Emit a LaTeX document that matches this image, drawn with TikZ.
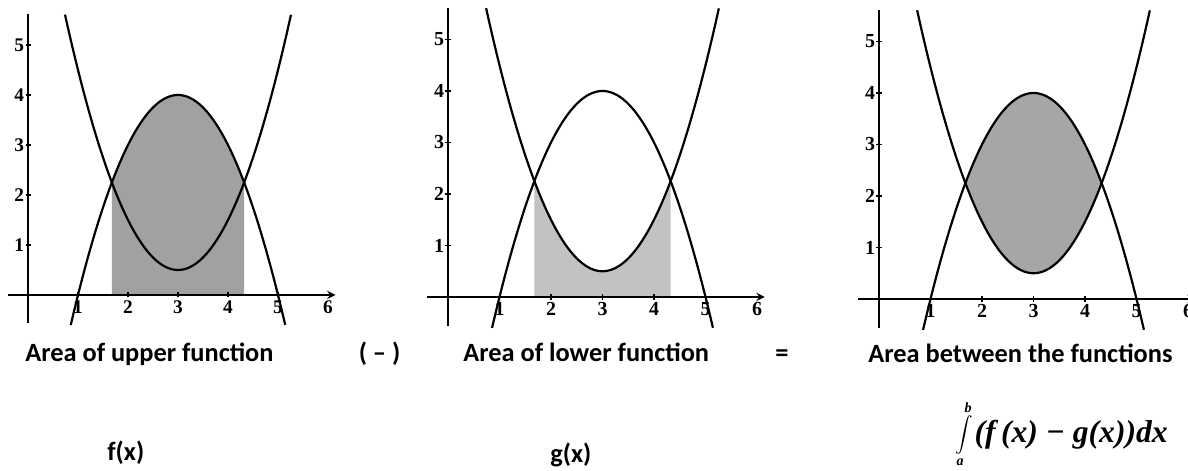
\documentclass[tikz,border=0pt]{standalone}
\usepackage{fontspec}
\setmainfont{Carlito}
\newfontfamily\numfont{Liberation Serif}
\usetikzlibrary{arrows, positioning}

% one set of axes with both parabolas
\tikzset{
    graphframe/.pic={
        \draw[axis] (-0.4,0) -- (6.15,0);
        \draw[yaxis] (0,-0.56) -- (0,5.62);
        \foreach \k in {1,...,5} {
            \draw[tick] (\k,-0.05) -- (\k,0.05);
            \draw[tick] (-0.05,\k) -- (0.05,\k);
            \node[ticklab, anchor=east] (ylab\k) at (-0.07,\k) {\k};
        }
        \foreach \k in {1,...,6}
            \node[ticklab, anchor=north] (xlab\k) at (\k,-0.1) {\k};
        \draw[curve] plot[domain=0.855:5.145] (\x,{4-(\x-3)^2});
        \draw[curve] plot[domain=0.74:5.26] (\x,{(\x-3)^2+0.5});
    }
}

\begin{document}
\begin{tikzpicture}[
    axis/.style={line width=1.1pt,->,>=stealth},
    yaxis/.style={line width=1.1pt},
    tick/.style={line width=0.8pt},
    curve/.style={line width=1.25pt, smooth, samples=80},
    ticklab/.style={font=\numfont\bfseries\fontsize{11}{13}\selectfont, inner sep=0pt},
    caption/.style={font=\bfseries\fontsize{15}{18}\selectfont, inner sep=0pt},
    upperfill/.style={fill=black!37},
    lowerfill/.style={fill=black!24},
    betweenfill/.style={fill=black!35}
]
    \useasboundingbox (0,0) rectangle (23.76,9.42);

    % upper function
    \begin{scope}[shift={(0.56,3.52)}]
        \fill[upperfill] (1.6771,0) -- plot[smooth, samples=60, domain=1.6771:4.3229] (\x,{4-(\x-3)^2}) -- (4.3229,0) -- cycle;
        \pic[transform shape] (pa) {graphframe};
    \end{scope}

    % lower function
    \begin{scope}[shift={(8.96,3.48)}, scale=1.03]
        \fill[lowerfill] (1.6771,0) -- plot[smooth, samples=60, domain=1.6771:4.3229] (\x,{(\x-3)^2+0.5}) -- (4.3229,0) -- cycle;
        \pic[transform shape] (pb) {graphframe};
    \end{scope}

    % area between
    \begin{scope}[shift={(17.58,3.44)}, scale=1.03]
        \fill[betweenfill] plot[smooth, samples=60, domain=1.6771:4.3229] (\x,{4-(\x-3)^2}) -- plot[smooth, samples=60, domain=4.3229:1.6771] (\x,{(\x-3)^2+0.5}) -- cycle;
        \pic[transform shape] (pc) {graphframe};
    \end{scope}

    \node[caption, anchor=base west] (upper) at (0.5,2.18) {Area of upper function};
    \node[caption, anchor=base] (minus) at (7.59,2.18) {( – )};
    \node[caption, anchor=base west] (lower) at (9.26,2.18) {Area of lower function};
    \node[caption, anchor=base] (equals) at (15.64,2.18) {=};
    \node[caption, anchor=base west] (between) at (17.36,2.16) {Area between the functions};

    \node[caption, anchor=base west] (fx) at (2.14,0.2) {f(x)};
    \node[caption, anchor=base west] (gx) at (11.0,0.17) {g(x)};
    \node[inner sep=0pt, anchor=base west] (integral) at (19.1,0.56)
        {{\fontsize{16}{19}\selectfont$\displaystyle\int\limits_{\mbox{\numfont\bfseries\itshape\fontsize{8}{9}\selectfont a}}^{\mbox{\numfont\bfseries\itshape\fontsize{8}{9}\selectfont b}}$}\kern1pt{\numfont\bfseries\itshape\fontsize{18}{21}\selectfont(f\,(x) − g(x))dx}};
\end{tikzpicture}
\end{document}
